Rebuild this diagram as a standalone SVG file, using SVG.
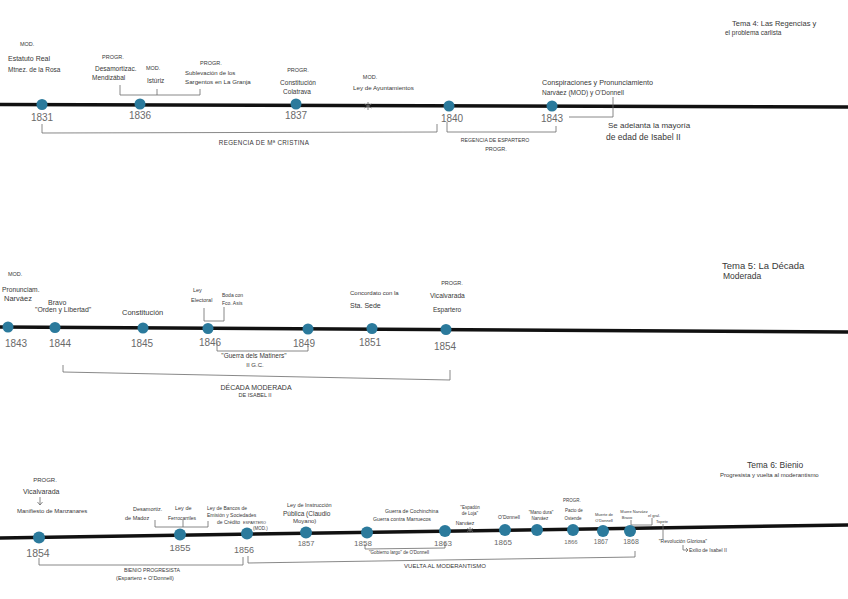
<svg xmlns="http://www.w3.org/2000/svg" width="848" height="599" viewBox="0 0 848 599">
<style>
text{font-family:"Liberation Sans",Arial,sans-serif;fill:#383838}
.y{fill:#6a6a6a}
.m{text-anchor:middle}
.tl{stroke:#111;stroke-width:3.5;fill:none;stroke-linecap:butt}
.br{stroke:#6a6a6a;stroke-width:0.8;fill:none}
.dot{fill:#2b7a9c}
</style>
<rect width="848" height="599" fill="#fff"/>

<g id="timelines">
<line class="tl" x1="0" y1="104.5" x2="848" y2="107"/>
<line class="tl" x1="0" y1="327" x2="848" y2="332"/>
<line class="tl" x1="0" y1="538" x2="848" y2="525"/>
</g>

<g id="connectors">
<path class="br" d="M120 85 V95 H200 V89 M157 95 V89"/>
<path class="br" d="M42 124 V133 L437 132 V124"/>
<path class="br" d="M447 122 V132 H556 V126"/>
<path class="br" d="M569 117 H613 V97"/>
<path class="br" d="M368 102 V110 M364.5 104 L371.5 108 M371.5 104 L364.5 108"/>
<path class="br" d="M204 308 V321 H224 V307"/>
<path class="br" d="M217 343 V351 H308 V346"/>
<path class="br" d="M63 365 V372 L450 380 V370"/>
<path class="br" d="M40 497 V505 M37.5 502 L40 505 L42.5 502"/>
<path class="br" d="M155 520 V527 H208 V521 M183 527 V520"/>
<path class="br" d="M39 558 V565 H243 V557"/>
<path class="br" d="M248 556 V563 L635 557 V551"/>
<path class="br" d="M365 544 V549 L445 548 V542"/>
<path class="br" d="M470 527 V533 M467 528.5 L473 531.5 M473 528.5 L467 531.5"/>
<path class="br" d="M631 520 V525 H652 V518"/>
<path class="br" d="M663 524 V539"/>
<path class="br" d="M683 545 V550 H688 M686 548 L688 550 L686 552"/>
</g>

<!-- Timeline 1 -->
<g id="n1831"><circle class="dot" cx="42" cy="104.5" r="5.5"/><text class="y m" x="42" y="121" font-size="10">1831</text>
<text x="20" y="46" font-size="5.5">MOD.</text>
<text x="8" y="60.5" font-size="7">Estatuto Real</text>
<text x="8" y="71.5" font-size="6.5">Mtnez. de la Rosa</text></g>
<g id="n1836"><circle class="dot" cx="140" cy="104" r="5.5"/><text class="y m" x="140" y="119" font-size="10">1836</text>
<text x="102" y="59" font-size="5.5">PROGR.</text>
<text x="95" y="70.5" font-size="6.5">Desamortizac.</text>
<text x="92" y="79.5" font-size="6.5">Mendizábal</text>
<text x="146" y="70" font-size="5.5">MOD.</text>
<text x="147" y="82.5" font-size="6.5">Istúriz</text>
<text x="200" y="65" font-size="5.5">PROGR.</text>
<text x="185" y="75" font-size="6">Sublevación de los</text>
<text x="185" y="84" font-size="6.2">Sargentos en La Granja</text></g>
<g id="n1837"><circle class="dot" cx="296" cy="104" r="5.5"/><text class="y m" x="296" y="119" font-size="10">1837</text>
<text class="m" x="298" y="72" font-size="5.5">PROGR.</text>
<text class="m" x="298" y="85" font-size="6.5">Constitución</text>
<text class="m" x="297" y="94" font-size="6.5">Colatrava</text></g>
<g id="nAyunt"><text class="m" x="370" y="79" font-size="5.5">MOD.</text>
<text x="353" y="90" font-size="6.2">Ley de Ayuntamientos</text></g>
<g id="n1840"><circle class="dot" cx="449" cy="106" r="5.5"/><text class="y m" x="452" y="122" font-size="10">1840</text>
<text class="m" x="495" y="142" font-size="5.2">REGENCIA DE ESPARTERO</text>
<text class="m" x="496" y="151" font-size="5.5">PROGR.</text></g>
<g id="n1843a"><circle class="dot" cx="552" cy="106" r="5.5"/><text class="y m" x="552" y="122" font-size="10">1843</text>
<text x="542" y="84.5" font-size="7.2">Conspiraciones y Pronunciamiento</text>
<text x="542" y="95.3" font-size="6.6">Narváez (MOD) y O'Donnell</text>
<text x="608" y="128" font-size="8">Se adelanta la mayoría</text>
<text x="606" y="140" font-size="8.5">de edad de Isabel II</text></g>
<g id="lblCristina"><text class="m" x="264" y="145" font-size="6.3" letter-spacing="0.3">REGENCIA DE Mª CRISTINA</text></g>
<g id="tema4"><text x="732" y="25.5" font-size="7.5">Tema 4: Las Regencias y</text>
<text x="725" y="35.3" font-size="6.5">el problema carlista</text></g>

<!-- Timeline 2 -->
<g id="n1843b"><circle class="dot" cx="8" cy="327" r="5.5"/><text class="y m" x="16" y="346.5" font-size="10">1843</text>
<text x="8" y="276" font-size="5.5">MOD.</text>
<text x="2" y="292.3" font-size="6.7">Pronunciam.</text>
<text x="4" y="300.5" font-size="7.5">Narváez</text></g>
<g id="n1844"><circle class="dot" cx="55" cy="327.5" r="5.5"/><text class="y m" x="60" y="346.5" font-size="10">1844</text>
<text x="48" y="304.5" font-size="7">Bravo</text>
<text x="35" y="312.4" font-size="6.9">"Orden y Libertad"</text></g>
<g id="n1845"><circle class="dot" cx="143" cy="328" r="5.5"/><text class="y m" x="142" y="346.5" font-size="10">1845</text>
<text x="122" y="315" font-size="7.5">Constitución</text></g>
<g id="n1846"><circle class="dot" cx="208" cy="328.5" r="5.5"/><text class="y m" x="210" y="345.5" font-size="10">1846</text>
<text x="193" y="292" font-size="5.5">Ley</text>
<text x="191" y="302" font-size="5.5">Electoral</text>
<text x="222" y="297" font-size="5">Boda con</text>
<text x="222" y="305" font-size="5">Fco. Asís</text>
<text class="m" x="254" y="358" font-size="6.5">"Guerra dels Matiners"</text>
<text class="m" x="255" y="367" font-size="6">II G.C.</text></g>
<g id="n1849"><circle class="dot" cx="308" cy="329" r="5.5"/><text class="y m" x="304" y="346.5" font-size="10">1849</text></g>
<g id="n1851"><circle class="dot" cx="372" cy="328.5" r="5.5"/><text class="y m" x="370" y="345.5" font-size="10">1851</text>
<text x="350" y="295" font-size="6">Concordato con la</text>
<text x="350" y="307.5" font-size="7">Sta. Sede</text></g>
<g id="n1854a"><circle class="dot" cx="446" cy="329.5" r="5.5"/><text class="y m" x="445" y="349.5" font-size="10">1854</text>
<text class="m" x="452" y="285" font-size="5.5">PROGR.</text>
<text x="430" y="297.5" font-size="6.7">Vicalvarada</text>
<text x="433" y="312" font-size="6.5">Espartero</text></g>
<g id="lblDecada"><text class="m" x="256" y="389.5" font-size="7">DÉCADA MODERADA</text>
<text class="m" x="255" y="397" font-size="5.5">DE ISABEL II</text></g>
<g id="tema5"><text x="722" y="268.5" font-size="9.5">Tema 5: La Década</text>
<text x="723" y="279" font-size="8.5">Moderada</text></g>

<!-- Timeline 3 -->
<g id="n1854b"><circle class="dot" cx="39" cy="537.5" r="6"/><text class="y m" x="38" y="556.5" font-size="10.5">1854</text>
<text class="m" x="45" y="482" font-size="6">PROGR.</text>
<text x="23" y="493.5" font-size="7">Vicalvarada</text>
<text x="17" y="513" font-size="6">Manifiesto de Manzanares</text></g>
<g id="n1855"><circle class="dot" cx="180" cy="534.5" r="6"/><text class="y m" x="180" y="550.5" font-size="9.5">1855</text>
<text x="133" y="511" font-size="5.5">Desamortiz.</text>
<text x="125" y="520" font-size="5.5">de Madoz</text>
<text x="175" y="510" font-size="5.5">Ley de</text>
<text x="168" y="520" font-size="5">Ferrocarriles</text>
<text x="207" y="510" font-size="5">Ley de Bancos de</text>
<text x="207" y="517" font-size="5">Emisión y Sociedades</text>
<text x="217" y="524" font-size="5">de Crédito</text></g>
<g id="n1856"><circle class="dot" cx="247" cy="533.5" r="6"/><text class="y m" x="244" y="553" font-size="9">1856</text>
<text x="243" y="524" font-size="3.8">ESPARTERO</text>
<text x="253" y="530" font-size="4.5">(MOD.)</text></g>
<g id="lblBienio"><text class="m" x="152" y="572" font-size="5.2">BIENIO PROGRESISTA</text>
<text class="m" x="145" y="580" font-size="5.5">(Espartero + O'Donnell)</text></g>
<g id="n1857"><circle class="dot" cx="306" cy="532.5" r="6"/><text class="y m" x="306" y="545.5" font-size="7.5">1857</text>
<text x="287" y="507" font-size="5.5">Ley de Instrucción</text>
<text x="283" y="515.5" font-size="6.5">Pública (Claudio</text>
<text x="293" y="523" font-size="6">Moyano)</text></g>
<g id="n1858"><circle class="dot" cx="367" cy="532.5" r="6"/><text class="y m" x="363" y="546" font-size="8">1858</text>
<text x="385" y="513" font-size="5.2">Guerra de Cochinchina</text>
<text x="373" y="521" font-size="5.2">Guerra contra Marruecos</text>
<text class="m" x="399" y="554" font-size="4.5">"Gobierno largo" de O'Donnell</text></g>
<g id="n1863"><circle class="dot" cx="445" cy="531" r="6"/><text class="y m" x="443" y="546" font-size="8">1863</text>
<text class="m" x="470" y="508.5" font-size="4.5">"Espadón</text>
<text class="m" x="470" y="514.5" font-size="4.5">de Loja"</text>
<text class="m" x="465" y="525" font-size="5">Narváez</text></g>
<g id="n1865"><circle class="dot" cx="505" cy="530" r="6"/><text class="y m" x="503" y="545" font-size="8">1865</text>
<text class="m" x="509" y="519" font-size="5">O'Donnell</text></g>
<g id="nManoDura"><circle class="dot" cx="537" cy="530" r="6"/>
<text class="m" x="541" y="513.5" font-size="4.5">"Mano dura"</text>
<text class="m" x="540" y="519.5" font-size="4.5">Narváez</text></g>
<g id="n1866"><circle class="dot" cx="573" cy="530" r="6"/><text class="y m" x="571" y="544" font-size="6">1866</text>
<text class="m" x="572" y="501.5" font-size="4.5">PROGR.</text>
<text class="m" x="574" y="511.5" font-size="4.5">Pacto de</text>
<text class="m" x="573" y="519.5" font-size="4.5">Ostende</text></g>
<g id="n1867"><circle class="dot" cx="603" cy="531" r="6"/><text class="y m" x="601" y="543.5" font-size="6.5">1867</text>
<text class="m" x="604" y="515.5" font-size="4">Muerte de</text>
<text class="m" x="604" y="521.5" font-size="4">O'Donnell</text></g>
<g id="n1868"><circle class="dot" cx="630" cy="531" r="6"/><text class="y m" x="631" y="543.5" font-size="7">1868</text>
<text class="m" x="634" y="513.4" font-size="4">Muere Narváez</text>
<text class="m" x="627" y="518.5" font-size="4">Bravo</text>
<text class="m" x="654" y="516.5" font-size="4">el gral.</text>
<text class="m" x="662" y="522.5" font-size="4">Topete</text>
<text class="m" x="683" y="543" font-size="5">"Revolución Gloriosa"</text>
<text x="689" y="552" font-size="5">Exilio de Isabel II</text></g>
<g id="lblVuelta"><text class="m" x="445" y="568" font-size="6">VUELTA AL MODERANTISMO</text></g>
<g id="tema6"><text x="747" y="468" font-size="8.5">Tema 6: Bienio</text>
<text x="720" y="477" font-size="6">Progresista y vuelta al moderantismo</text></g>
</svg>
